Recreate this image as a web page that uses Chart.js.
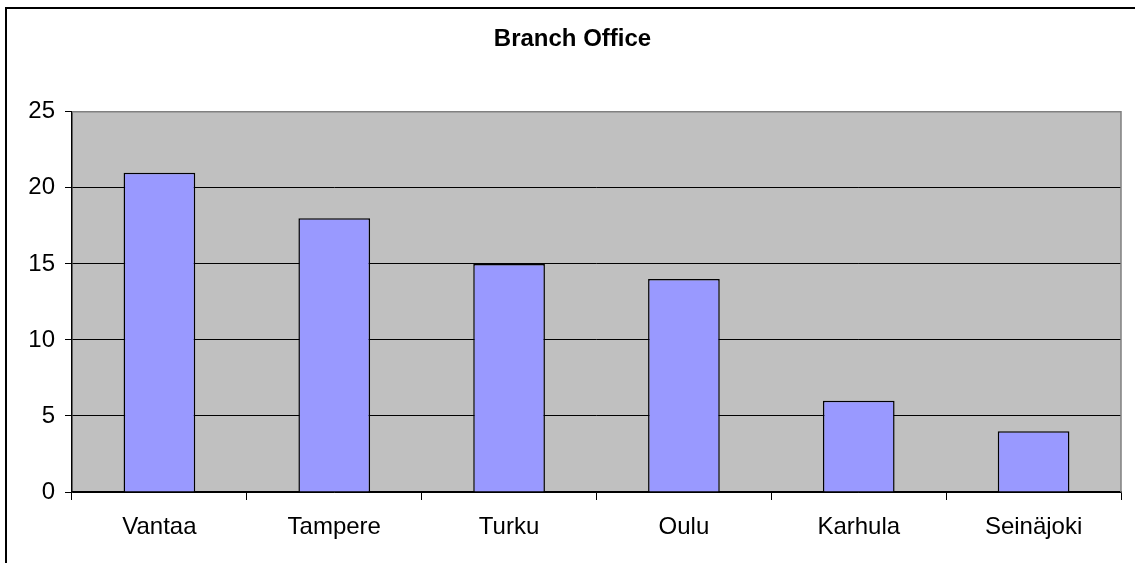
<!DOCTYPE html>
<html>
<head>
<meta charset="utf-8">
<script src="https://cdn.jsdelivr.net/npm/chart.js@4.4.0/dist/chart.umd.min.js"></script>
<style>
  html, body { margin: 0; padding: 0; background: #fff; }
  #wrap { width: 1135px; height: 563px; position: relative; }
</style>
</head>
<body>
<div id="wrap"><canvas id="branchChart" width="1135" height="563"></canvas></div>
<script>
// Chart data
const offices = ['Vantaa', 'Tampere', 'Turku', 'Oulu', 'Karhula', 'Seinäjoki'];
const officeCounts = [21, 18, 15, 14, 6, 4];
const yTicks = [0, 5, 10, 15, 20, 25];

// Gray plot area, gray frame on top/right, black outer frame
const plotBackground = {
    id: 'plotBackground',
    beforeDraw(chart) {
        const { ctx, chartArea: a } = chart;
        ctx.save();
        ctx.fillStyle = '#C0C0C0';
        ctx.fillRect(a.left, a.top, a.right - a.left, a.bottom - a.top);
        ctx.restore();
    },
    afterDraw(chart) {
        const { ctx, chartArea: a } = chart;
        ctx.save();
        ctx.strokeStyle = '#808080';
        ctx.lineWidth = 1.5;
        ctx.beginPath();
        ctx.moveTo(a.left, a.top);
        ctx.lineTo(a.right, a.top);
        ctx.lineTo(a.right, a.bottom);
        ctx.stroke();
        // outer frame (only left and top edges are visible)
        ctx.fillStyle = '#000';
        ctx.fillRect(5, 7, 2, 563);
        ctx.fillRect(5, 7, 1130, 2);
        ctx.restore();
    }
};

Chart.defaults.font.family = '"Liberation Sans", Arial, sans-serif';
Chart.defaults.color = '#000';

new Chart(document.getElementById('branchChart'), {
    type: 'bar',
    data: {
        labels: offices,
        datasets: [{
            data: officeCounts,
            backgroundColor: '#9999FF',
            borderColor: '#000',
            borderWidth: 1.5,
            categoryPercentage: 1,
            barPercentage: 0.41
        }]
    },
    options: {
        responsive: false,
        animation: false,
        layout: { padding: { left: 24, right: 14, top: 0, bottom: 0 } },
        plugins: {
            legend: { display: false },
            tooltip: { enabled: false },
            title: {
                display: true,
                text: 'Branch Office',
                font: { size: 24, weight: 'bold' },
                padding: { top: 25, bottom: 58 }
            }
        },
        scales: {
            x: {
                afterFit(scale) { scale.height = 71; },
                grid: {
                    offset: true,
                    drawOnChartArea: false,
                    color: '#000',
                    tickLength: 8
                },
                border: { color: '#000', width: 1.5 },
                ticks: { font: { size: 24 }, padding: 13 }
            },
            y: {
                min: 0,
                max: 25,
                afterFit(scale) { scale.width = 48; },
                afterBuildTicks(scale) {
                    scale.ticks = yTicks.map(v => ({ value: v }));
                },
                grid: {
                    color: ctx => (ctx.tick && ctx.tick.value === 25) ? '#808080' : '#000',
                    tickColor: '#000',
                    tickLength: 7,
                    lineWidth: 1
                },
                border: { color: '#000', width: 1.5 },
                ticks: { font: { size: 24 }, padding: 10 }
            }
        }
    },
    plugins: [plotBackground]
});
</script>
</body>
</html>
